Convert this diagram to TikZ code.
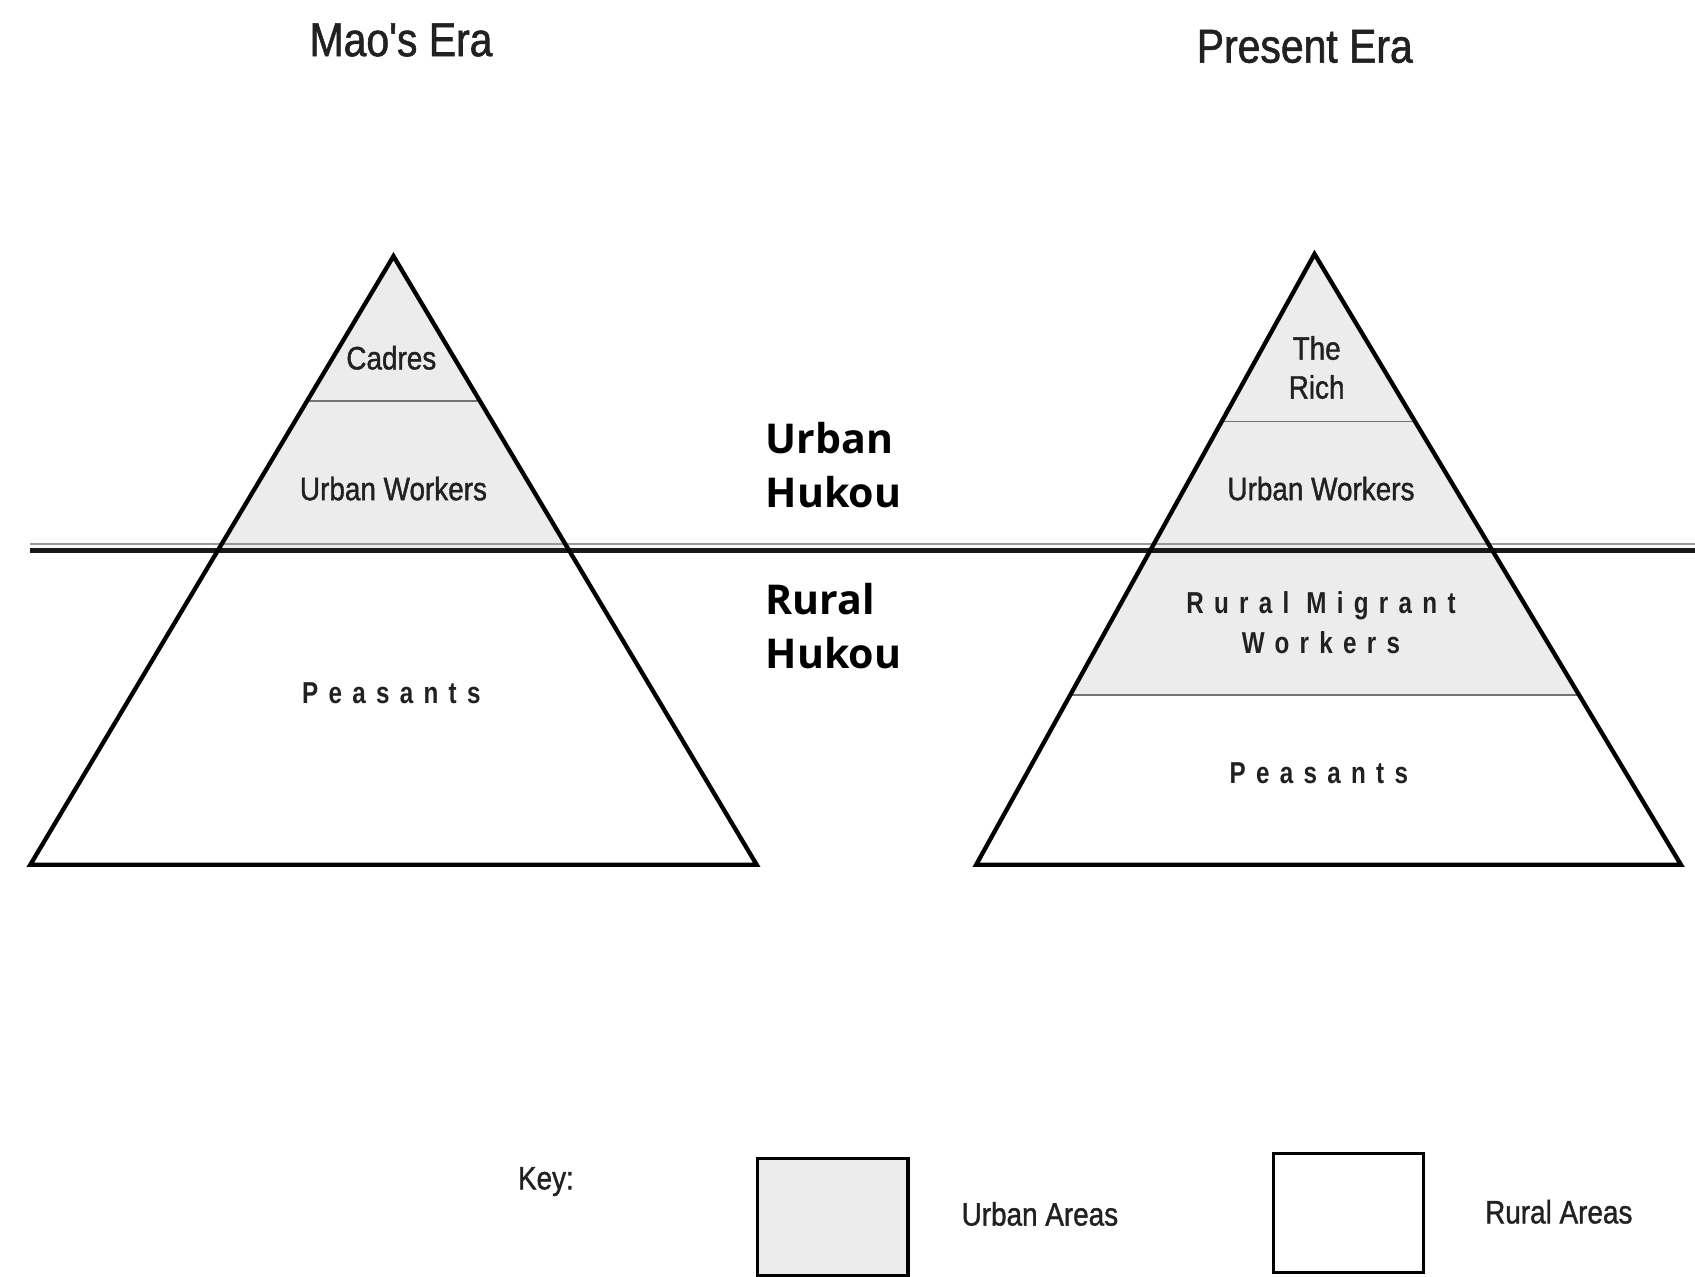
\documentclass[tikz,border=0pt]{standalone}
\usepackage{fontspec}
\setmainfont{Liberation Sans}
\newfontfamily\condf[FakeStretch=0.86, FakeBold=1.2]{Liberation Sans}
\newfontfamily\condbf[FakeStretch=0.80]{Liberation Sans Bold}
\newfontfamily\hukouf{Open Sans}
\usetikzlibrary{calc}
\definecolor{urbanfill}{gray}{0.925}
\definecolor{divline}{gray}{0.45}
\definecolor{txt}{gray}{0.13}
\tikzset{
  tri/.style={draw=black, line width=2pt, line join=miter},
  divider/.style={draw=divline, line width=0.7pt},
  title/.style={font=\condf\fontsize{22}{26}\selectfont, text=txt, inner sep=0pt},
  layer/.style={font=\condf\fontsize{15}{18}\selectfont, text=txt, align=center, inner sep=0pt},
  spaced/.style={font=\condbf\fontsize{14}{18.5}\selectfont\addfontfeature{LetterSpace=34}, text=txt, align=center, inner sep=0pt},
  hukou/.style={font=\hukouf\bfseries\fontsize{19}{25}\selectfont, align=left, anchor=west, inner sep=0pt},
  keytext/.style={font=\condf\fontsize{15}{18}\selectfont, text=txt, inner sep=0pt},
  keybox/.style={draw=black, line width=1.5pt},
}
\begin{document}
\begin{tikzpicture}[x=0.5pt,y=-0.5pt]
\useasboundingbox[fill=white] (0,0) rectangle (1568,1181);
% vertices
\coordinate (LA) at (364,237);
\coordinate (LB) at (28,800);
\coordinate (LC) at (700,800);
\coordinate (RA) at (1216,235);
\coordinate (RB) at (903,800);
\coordinate (RC) at (1555,800);
% fills and dividers
\begin{scope}
  \clip (LA) -- (LB) -- (LC) -- cycle;
  \fill[urbanfill] (0,0) rectangle (1568,509);
  \draw[divider] (0,371) -- (1568,371);
\end{scope}
\begin{scope}
  \clip (RA) -- (RB) -- (RC) -- cycle;
  \fill[urbanfill] (0,0) rectangle (1568,643);
  \draw[divider] (0,390) -- (1568,390);
  \draw[divider] (0,643) -- (1568,643);
\end{scope}
% hukou boundary line
\coordinate (HL1) at (28,503);
\coordinate (HR1) at (1568,503);
\coordinate (HL2) at (28,509.5);
\coordinate (HR2) at (1568,509.5);
\draw[gray!80, line width=1.1pt] (HL1) -- (HR1);
\draw[black!90, line width=2.3pt] (HL2) -- (HR2);
% triangles
\draw[tri] (LA) -- (LB) -- (LC) -- cycle;
\draw[tri] (RA) -- (RB) -- (RC) -- cycle;
% titles
\node[title] (t1) at (371,37) {Mao's Era};
\node[title] (t2) at (1207,43) {Present Era};
% left labels
\node[layer] (cadres) at (362,331) {Cadres};
\node[layer] (uw1) at (364,452) {Urban Workers};
\node[spaced] (p1) at (362,641) {Peasants};
% right labels
\node[layer] (rich) at (1218,340) {The\\Rich};
\node[layer] (uw2) at (1222,452) {Urban Workers};
\node[spaced] (rmw) at (1222,576) {Rural Migrant\\Workers};
\node[spaced] (p2) at (1220,715) {Peasants};
% hukou labels
\node[hukou] (uh) at (708,430) {Urban\\Hukou};
\node[hukou] (rh) at (708,579) {Rural\\Hukou};
% key
\node[keytext] (key) at (505,1093) {Key:};
\node[keybox, fill=urbanfill, minimum width=69.5pt, minimum height=54pt, inner sep=0pt] (ubox) at (770.5,1126) {};
\node[keytext] (ua) at (962,1123) {Urban Areas};
\node[keybox, fill=white, minimum width=69.5pt, minimum height=55pt, inner sep=0pt] (rbox) at (1247.5,1122) {};
\node[keytext] (ra) at (1442,1121) {Rural Areas};
\end{tikzpicture}
\end{document}
